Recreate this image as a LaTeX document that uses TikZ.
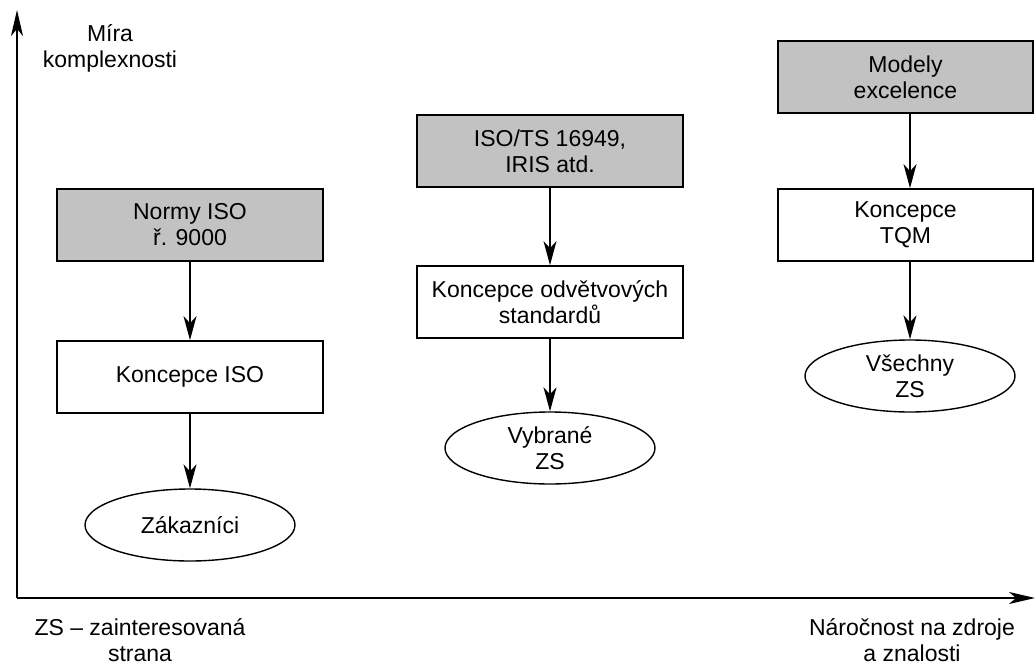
\documentclass[tikz,border=0pt]{standalone}
\usepackage{fontspec}
\setmainfont{Liberation Sans}
\usetikzlibrary{shapes.geometric,arrows.meta}
\begin{document}
\begin{tikzpicture}[x=1pt,y=-1pt,
  lbl/.style={font=\fontsize{23}{26}\selectfont, align=center, inner sep=0pt},
  box/.style={lbl, draw, line width=1.7pt, minimum width=266pt, minimum height=72pt},
  shaded/.style={box, fill=black!24},
  oval/.style={lbl, draw, ellipse, line width=1.4pt, minimum width=210pt, minimum height=72pt},
  conn/.style={line width=1.5pt, -{Stealth[length=24pt,width=13pt,inset=7pt]}},
  axis/.style={line width=1.8pt, -{Stealth[length=26pt,width=12pt,inset=7pt]}}]
\fill[white] (0,0) rectangle (1035,666);
\useasboundingbox (0,0) rectangle (1035,666);

% left column
\node[shaded] (n1) at (190,225) {Normy ISO\\ř. 9000};
\node[box] (k1) at (190,377) {Koncepce ISO};
\node[oval] (z1) at (190,525) {Zákazníci};
\draw[conn] (n1) -- (k1);
\draw[conn] (k1) -- (z1);

% middle column
\node[shaded] (n2) at (550,151) {ISO/TS 16949,\\IRIS atd.};
\node[box] (k2) at (550,302) {Koncepce odvětvových\\standardů};
\node[oval] (z2) at (550,448) {Vybrané\\ZS};
\draw[conn] (n2) -- (k2);
\draw[conn] (k2) -- (z2);

% right column
\node[shaded, minimum width=255pt] (n3) at (905.5,77) {Modely\\excelence};
\node[box, minimum width=255pt] (k3) at (905.5,225) {Koncepce\\TQM};
\node[oval] (z3) at (910,376) {Všechny\\ZS};
\draw[conn] (n3.south -| z3.north) -- (k3.north -| z3.north);
\draw[conn] (k3.south -| z3.north) -- (z3.north);

% axes
\coordinate (o) at (17,598);
\coordinate (ytip) at (17,10);
\coordinate (xtip) at (1035,598);
\draw[axis] (o) -- (ytip);
\draw[axis] (o) -- (xtip);

% labels
\node[lbl] (ylab) at (110,48) {Míra\\komplexnosti};
\node[lbl] (note) at (140,640) {ZS – zainteresovaná\\strana};
\node[lbl] (xlab) at (912,640) {Náročnost na zdroje\\a znalosti};
\end{tikzpicture}
\end{document}
